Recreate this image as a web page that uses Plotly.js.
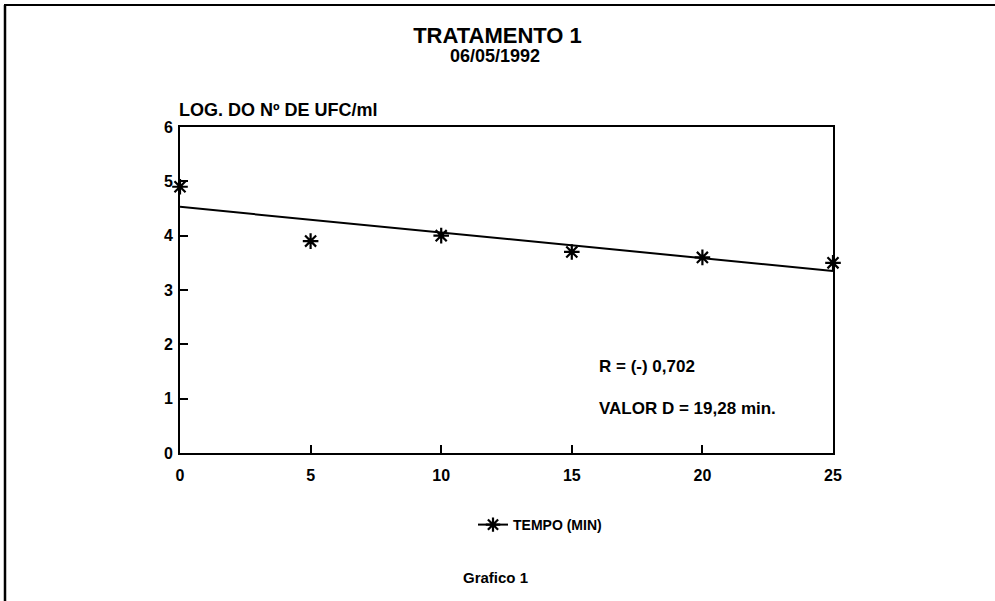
<!DOCTYPE html>
<html>
<head>
<meta charset="utf-8">
<script src="https://cdn.plot.ly/plotly-3.0.1.min.js"></script>
<style>html,body{margin:0;padding:0;background:#fff;}#chart{width:995px;height:601px;}</style>
</head>
<body>
<div id="chart"></div>
<script>
// Data
const tempo = [0, 5, 10, 15, 20, 25];
const logUFC = [4.9, 3.9, 4.0, 3.7, 3.6, 3.5];
const fitX = [0, 25];
const fitY = [4.53, 3.35];
const xTicks = [0, 5, 10, 15, 20, 25];
const yTicks = [0, 1, 2, 3, 4, 5, 6];
const legendName = 'TEMPO (MIN)';
const titleMain = 'TRATAMENTO 1';
const titleDate = '06/05/1992';
const yTitle = 'LOG. DO Nº DE UFC/ml';
const noteR = 'R = (-) 0,702';
const noteD = 'VALOR D = 19,28 min.';
const footer = 'Grafico 1';

const W = 995, H = 601;
const L = 180, R = 833, T = 127, B = 453;
const px = x => (x - L) / (R - L);
const py = y => (B - y) / (B - T);
const FONT = 'Liberation Sans, Arial, sans-serif';

const traces = [
  {x: fitX, y: fitY, mode: 'lines', line: {color: '#000', width: 2}, showlegend: false, hoverinfo: 'skip'},
  {x: tempo, y: logUFC, mode: 'markers', showlegend: false, cliponaxis: false,
   marker: {symbol: 'asterisk', size: 13, color: '#000', line: {color: '#000', width: 2.2}}},
  {x: [null], y: [null], mode: 'lines+markers', name: legendName, showlegend: true,
   line: {color: '#000', width: 2},
   marker: {symbol: 'asterisk', size: 12, color: '#000', line: {color: '#000', width: 2.2}}}
];

const axisCommon = {
  showgrid: false, zeroline: false, showline: true, linecolor: '#000', linewidth: 2,
  mirror: true, ticks: 'inside', ticklen: 8, tickwidth: 2, tickcolor: '#000', automargin: false,
  tickfont: {family: FONT, size: 16, color: '#000', weight: 'bold'}, fixedrange: true
};

const layout = {
  width: W, height: H,
  margin: {l: L, r: W - R, t: T, b: H - B, autoexpand: false},
  paper_bgcolor: '#fff', plot_bgcolor: '#fff',
  font: {family: FONT, color: '#000'},
  title: {text: '<b>' + titleMain + '</b>', font: {family: FONT, size: 22, color: '#000'},
          x: 0.5, xref: 'container', xanchor: 'center', y: 1 - 35 / H, yref: 'container', yanchor: 'middle'},
  xaxis: Object.assign({}, axisCommon, {range: [0, 25], tickvals: xTicks, ticktext: xTicks.map(String), ticklabelstandoff: 7}),
  yaxis: Object.assign({}, axisCommon, {range: [0, 6], tickvals: yTicks, ticktext: yTicks.map(String), ticklabelstandoff: 2}),
  showlegend: true,
  legend: {x: px(473), xref: 'paper', xanchor: 'left', y: py(525), yref: 'paper', yanchor: 'middle',
           orientation: 'h', font: {family: FONT, size: 14, color: '#000', weight: 'bold'},
           itemwidth: 30, bgcolor: 'rgba(0,0,0,0)'},
  annotations: [
    {text: '<b>' + titleDate + '</b>', xref: 'paper', yref: 'paper', x: px(495), y: py(56),
     xanchor: 'center', yanchor: 'middle', showarrow: false, font: {family: FONT, size: 18, color: '#000'}},
    {text: '<b>' + yTitle + '</b>', xref: 'paper', yref: 'paper', x: px(177), y: py(110),
     xanchor: 'left', yanchor: 'middle', showarrow: false, font: {family: FONT, size: 18, color: '#000'}},
    {text: '<b>' + noteR + '</b>', xref: 'paper', yref: 'paper', x: px(597), y: py(366),
     xanchor: 'left', yanchor: 'middle', showarrow: false, font: {family: FONT, size: 17, color: '#000'}},
    {text: '<b>' + noteD + '</b>', xref: 'paper', yref: 'paper', x: px(597), y: py(408),
     xanchor: 'left', yanchor: 'middle', showarrow: false, font: {family: FONT, size: 17, color: '#000'}},
    {text: '<b>' + footer + '</b>', xref: 'paper', yref: 'paper', x: px(495), y: py(577),
     xanchor: 'center', yanchor: 'middle', showarrow: false, font: {family: FONT, size: 15, color: '#000'}}
  ],
  shapes: [
    {type: 'line', xref: 'paper', yref: 'paper', x0: px(5), x1: px(5), y0: py(5), y1: py(601), line: {color: '#000', width: 2.5}},
    {type: 'line', xref: 'paper', yref: 'paper', x0: px(4), x1: px(995), y0: py(5), y1: py(5), line: {color: '#000', width: 2}}
  ]
};

Plotly.newPlot('chart', traces, layout, {displayModeBar: false, staticPlot: true});
</script>
</body>
</html>
